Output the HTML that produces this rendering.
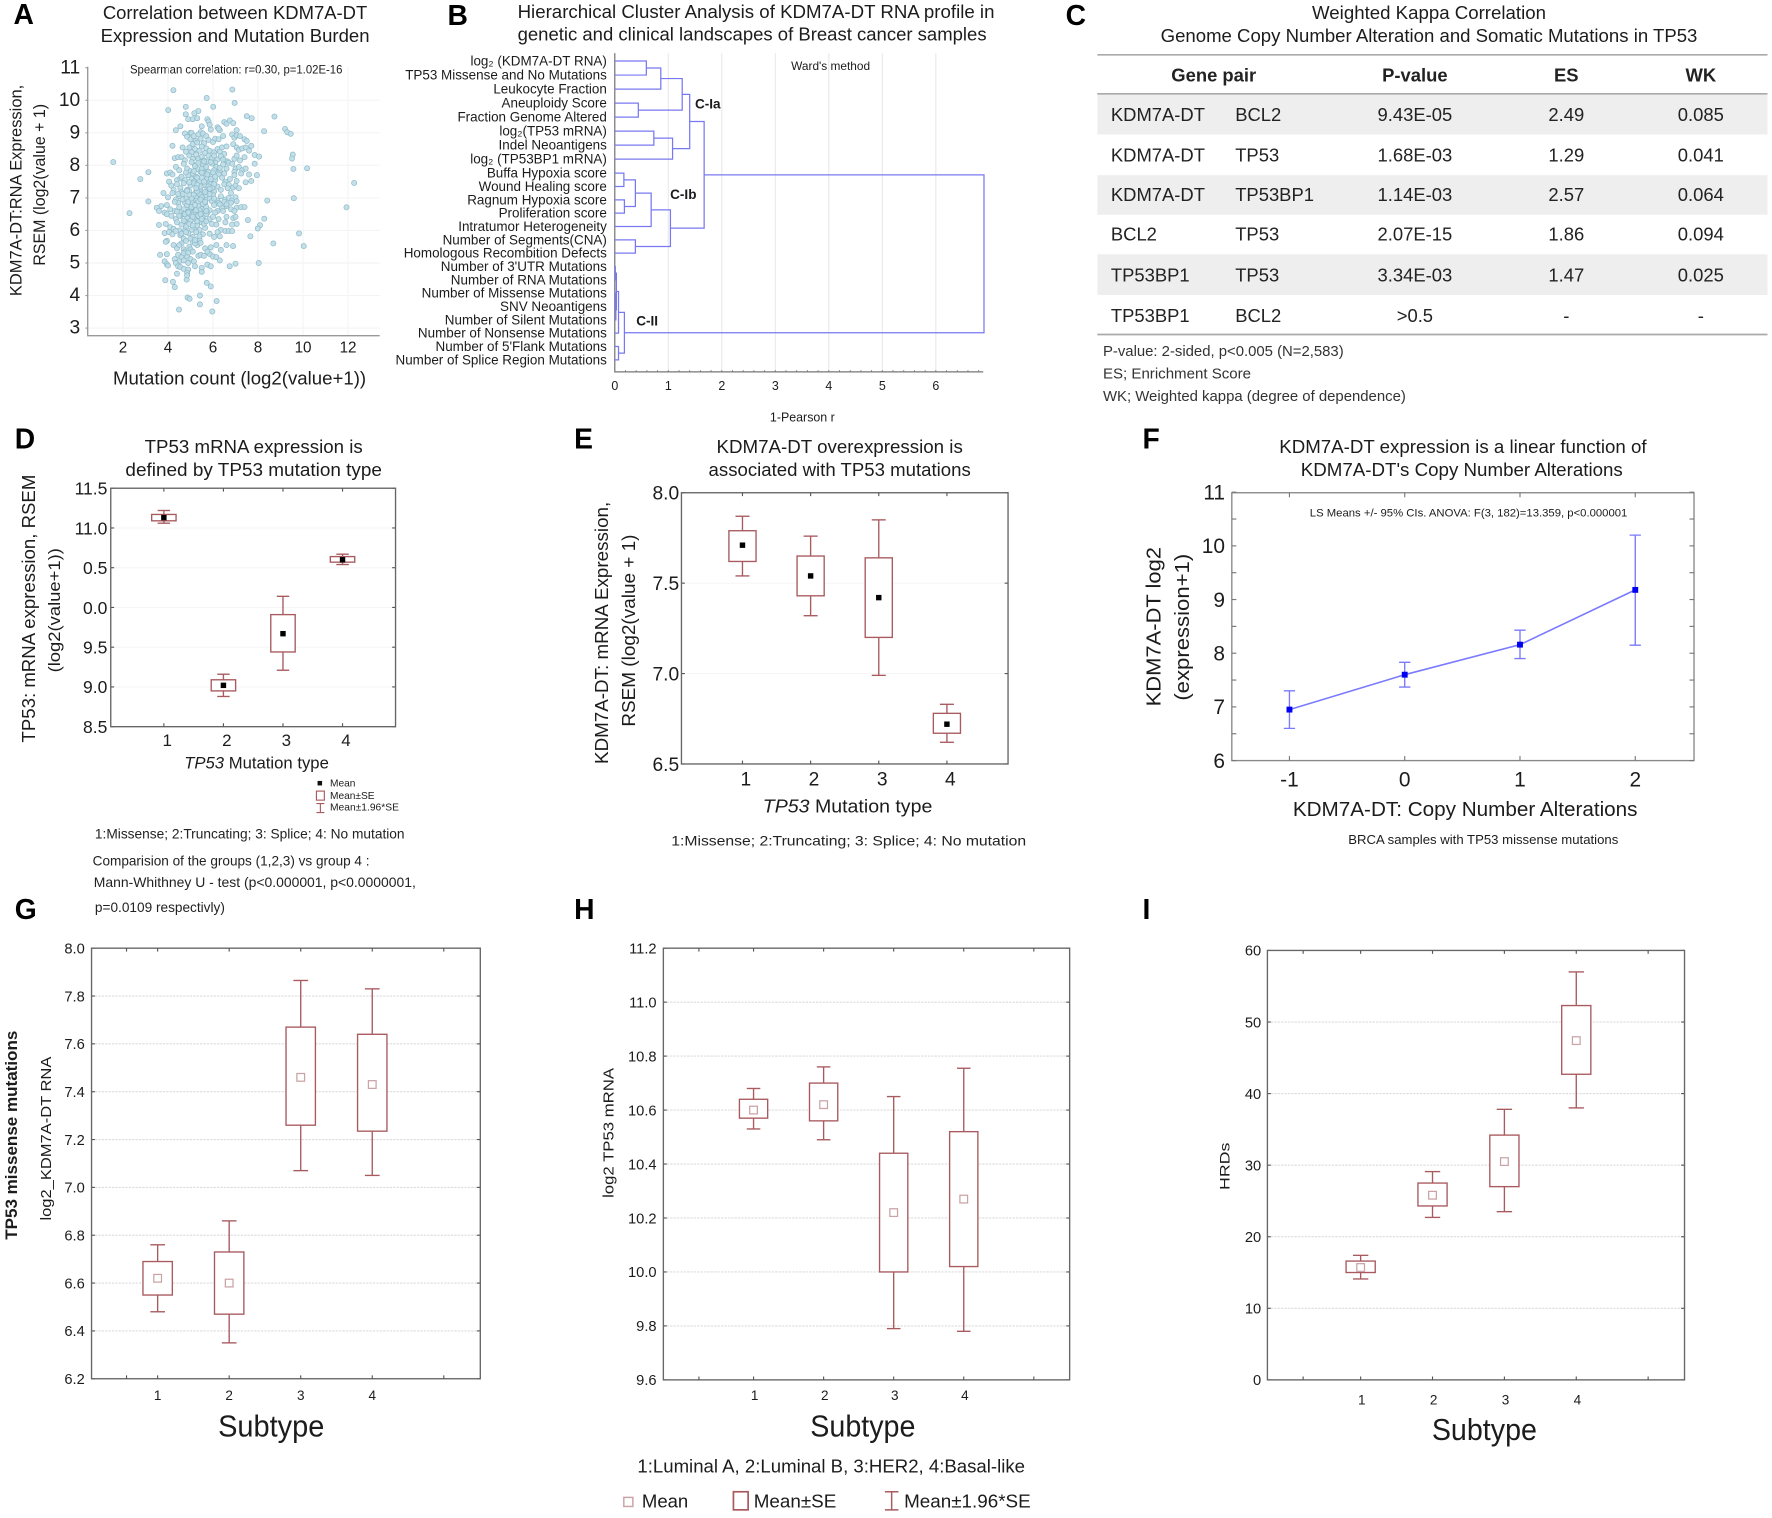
<!DOCTYPE html>
<html lang="en">
<head>
<meta charset="utf-8">
<title>KDM7A-DT multi-panel figure</title>
<style>
html,body{margin:0;padding:0;background:#fff;}
svg{display:block;font-family:"Liberation Sans",sans-serif;filter:blur(0.35px);}
text{fill:#1c1c1c;}
.plet{font-size:25px;font-weight:bold;fill:#000;}
.ttl{font-size:16px;}
.tbl{font-size:16.3px;fill:#222;}
.tbh{font-size:16.3px;font-weight:bold;fill:#222;}
.fn{font-size:13.400px;fill:#333;}
.foot{font-size:12.5px;fill:#222;}
</style>
</head>
<body>
<svg xmlns="http://www.w3.org/2000/svg" width="1772" height="1518" viewBox="0 0 1568 1343.2">
<rect x="0" y="0" width="1568" height="1343.2" fill="#fff"/>

<!-- panel letters -->
<text class="plet" x="12" y="21">A</text>
<text class="plet" x="396" y="22">B</text>
<text class="plet" x="943" y="22">C</text>
<text class="plet" x="13" y="397">D</text>
<text class="plet" x="508" y="397">E</text>
<text class="plet" x="1011" y="397">F</text>
<text class="plet" x="13" y="813">G</text>
<text class="plet" x="508" y="813">H</text>
<text class="plet" x="1011" y="813">I</text>

<!-- Panel A -->
<g id="panel-a">
<text class="ttl" x="91" y="17" textLength="234" lengthAdjust="spacingAndGlyphs">Correlation between KDM7A-DT</text>
<text class="ttl" x="89" y="37" textLength="238" lengthAdjust="spacingAndGlyphs">Expression and Mutation Burden</text>
<text x="115" y="65" font-size="10.5" textLength="188" lengthAdjust="spacingAndGlyphs">Spearman correlation: r=0.30, p=1.02E-16</text>
<text transform="translate(19,262) rotate(-90)" font-size="14.5" textLength="187" lengthAdjust="spacingAndGlyphs">KDM7A-DT:RNA Expression,</text>
<text transform="translate(40,235) rotate(-90)" font-size="14.5" textLength="143" lengthAdjust="spacingAndGlyphs">RSEM (log2(value + 1)</text>
<text x="100" y="340" font-size="16" textLength="224" lengthAdjust="spacingAndGlyphs">Mutation count (log2(value+1))</text>
</g>

<!-- Panel B -->
<g id="panel-b">
<text class="ttl" x="458" y="16" textLength="422" lengthAdjust="spacingAndGlyphs">Hierarchical Cluster Analysis of KDM7A-DT RNA profile in</text>
<text class="ttl" x="458" y="36" textLength="415" lengthAdjust="spacingAndGlyphs">genetic and clinical landscapes of Breast cancer samples</text>
<text x="735" y="62" font-size="10.5" text-anchor="middle" fill="#444">Ward's method</text>
<text x="710" y="373" font-size="11" text-anchor="middle">1-Pearson r</text>
<text x="615" y="96" font-size="12" font-weight="bold">C-Ia</text>
<text x="593" y="176" font-size="12" font-weight="bold">C-Ib</text>
<text x="563" y="288" font-size="12" font-weight="bold">C-II</text>
</g>

<!-- Panel C -->
<g id="panel-c">
<text class="ttl" x="1161" y="17" textLength="207" lengthAdjust="spacingAndGlyphs">Weighted Kappa Correlation</text>
<text class="ttl" x="1027" y="37" textLength="475" lengthAdjust="spacingAndGlyphs">Genome Copy Number  Alteration and Somatic Mutations in TP53</text>
<rect x="971" y="83" width="593" height="36" fill="#eeeeee"/>
<rect x="971" y="155" width="593" height="35" fill="#eeeeee"/>
<rect x="971" y="225" width="593" height="36" fill="#eeeeee"/>
<line x1="971" x2="1564" y1="48.5" y2="48.5" stroke="#aaa" stroke-width="1.5"/>
<line x1="971" x2="1564" y1="83" y2="83" stroke="#aaa" stroke-width="1.5"/>
<line x1="971" x2="1564" y1="296" y2="296" stroke="#aaa" stroke-width="1.5"/>
<text class="tbh" x="1074" y="72" text-anchor="middle">Gene pair</text>
<text class="tbh" x="1252" y="72" text-anchor="middle">P-value</text>
<text class="tbh" x="1386" y="72" text-anchor="middle">ES</text>
<text class="tbh" x="1505" y="72" text-anchor="middle">WK</text>

<text class="tbl" x="983" y="107">KDM7A-DT</text><text class="tbl" x="1093" y="107">BCL2</text><text class="tbl" x="1252" y="107" text-anchor="middle">9.43E-05</text><text class="tbl" x="1386" y="107" text-anchor="middle">2.49</text><text class="tbl" x="1505" y="107" text-anchor="middle">0.085</text>
<text class="tbl" x="983" y="143">KDM7A-DT</text><text class="tbl" x="1093" y="143">TP53</text><text class="tbl" x="1252" y="143" text-anchor="middle">1.68E-03</text><text class="tbl" x="1386" y="143" text-anchor="middle">1.29</text><text class="tbl" x="1505" y="143" text-anchor="middle">0.041</text>
<text class="tbl" x="983" y="178">KDM7A-DT</text><text class="tbl" x="1093" y="178">TP53BP1</text><text class="tbl" x="1252" y="178" text-anchor="middle">1.14E-03</text><text class="tbl" x="1386" y="178" text-anchor="middle">2.57</text><text class="tbl" x="1505" y="178" text-anchor="middle">0.064</text>
<text class="tbl" x="983" y="213">BCL2</text><text class="tbl" x="1093" y="213">TP53</text><text class="tbl" x="1252" y="213" text-anchor="middle">2.07E-15</text><text class="tbl" x="1386" y="213" text-anchor="middle">1.86</text><text class="tbl" x="1505" y="213" text-anchor="middle">0.094</text>
<text class="tbl" x="983" y="249">TP53BP1</text><text class="tbl" x="1093" y="249">TP53</text><text class="tbl" x="1252" y="249" text-anchor="middle">3.34E-03</text><text class="tbl" x="1386" y="249" text-anchor="middle">1.47</text><text class="tbl" x="1505" y="249" text-anchor="middle">0.025</text>
<text class="tbl" x="983" y="285">TP53BP1</text><text class="tbl" x="1093" y="285">BCL2</text><text class="tbl" x="1252" y="285" text-anchor="middle">&gt;0.5</text><text class="tbl" x="1386" y="285" text-anchor="middle">-</text><text class="tbl" x="1505" y="285" text-anchor="middle">-</text>

<text class="fn" x="976" y="315" textLength="213" lengthAdjust="spacingAndGlyphs">P-value:  2-sided, p&lt;0.005 (N=2,583)</text>
<text class="fn" x="976" y="335" textLength="131" lengthAdjust="spacingAndGlyphs">ES; Enrichment Score</text>
<text class="fn" x="976" y="355" textLength="268" lengthAdjust="spacingAndGlyphs">WK; Weighted kappa (degree of dependence)</text>
</g>

<!-- Panel D -->
<g id="panel-d">
<text class="ttl" x="128" y="401" textLength="193" lengthAdjust="spacingAndGlyphs">TP53 mRNA  expression is</text>
<text class="ttl" x="111" y="421" textLength="227" lengthAdjust="spacingAndGlyphs">defined by TP53  mutation type</text>
<text transform="translate(31,657) rotate(-90)" font-size="16" textLength="237" lengthAdjust="spacingAndGlyphs">TP53: mRNA expression, RSEM</text>
<text transform="translate(53,595) rotate(-90)" font-size="15" textLength="110" lengthAdjust="spacingAndGlyphs">(log2(value+1))</text>
<text x="163" y="680" font-size="14.5" textLength="128" lengthAdjust="spacingAndGlyphs"><tspan font-style="italic">TP53</tspan> Mutation type</text>
<rect x="281" y="691" width="4" height="4" fill="#111"/>
<text x="292" y="696" font-size="9">Mean</text>
<rect x="280" y="700" width="7" height="8" fill="#fff" stroke="#a85a5f"/>
<text x="292" y="707" font-size="9">Mean±SE</text>
<path d="M280 711H287M283.500 711V719M280 719H287" stroke="#a85a5f" fill="none"/>
<text x="292" y="717" font-size="9" textLength="61" lengthAdjust="spacingAndGlyphs">Mean±1.96*SE</text>
<text class="foot" x="84" y="742" textLength="274" lengthAdjust="spacingAndGlyphs">1:Missense; 2:Truncating; 3: Splice; 4: No mutation</text>
<text class="foot" x="82" y="766" textLength="245" lengthAdjust="spacingAndGlyphs">Comparision of the groups (1,2,3) vs group 4 :</text>
<text class="foot" x="83" y="785" textLength="285" lengthAdjust="spacingAndGlyphs">Mann-Whithney U -  test  (p&lt;0.000001, p&lt;0.0000001,</text>
<text class="foot" x="84" y="807" textLength="115" lengthAdjust="spacingAndGlyphs">p=0.0109 respectivly)</text>
</g>

<!-- Panel E -->
<g id="panel-e">
<text class="ttl" x="634" y="401" textLength="218" lengthAdjust="spacingAndGlyphs">KDM7A-DT overexpression is</text>
<text class="ttl" x="627" y="421" textLength="232" lengthAdjust="spacingAndGlyphs">associated with TP53 mutations</text>
<text transform="translate(538,676) rotate(-90)" font-size="16" textLength="232" lengthAdjust="spacingAndGlyphs">KDM7A-DT: mRNA Expression,</text>
<text transform="translate(562,643) rotate(-90)" font-size="16" textLength="170" lengthAdjust="spacingAndGlyphs">RSEM (log2(value + 1)</text>
<text x="675" y="719" font-size="16" textLength="150" lengthAdjust="spacingAndGlyphs"><tspan font-style="italic">TP53</tspan>  Mutation type</text>
<text class="foot" x="594" y="748" font-size="13" textLength="314" lengthAdjust="spacingAndGlyphs">1:Missense; 2:Truncating; 3: Splice; 4: No mutation</text>
</g>

<!-- Panel F -->
<g id="panel-f">
<text class="ttl" x="1132" y="401" textLength="325" lengthAdjust="spacingAndGlyphs">KDM7A-DT expression is a linear function of</text>
<text class="ttl" x="1151" y="421" textLength="285" lengthAdjust="spacingAndGlyphs">KDM7A-DT's Copy Number  Alterations</text>
<text x="1159" y="457" font-size="10" textLength="281" lengthAdjust="spacingAndGlyphs">LS Means +/- 95% CIs. ANOVA: F(3, 182)=13.359, p&lt;0.000001</text>
<text transform="translate(1027,625) rotate(-90)" font-size="18" textLength="141" lengthAdjust="spacingAndGlyphs">KDM7A-DT log2</text>
<text transform="translate(1052,620) rotate(-90)" font-size="18" textLength="130" lengthAdjust="spacingAndGlyphs">(expression+1)</text>
<text x="1144" y="722" font-size="18" textLength="305" lengthAdjust="spacingAndGlyphs">KDM7A-DT: Copy Number Alterations</text>
<text x="1193" y="747" font-size="11.5" textLength="239" lengthAdjust="spacingAndGlyphs" fill="#444">BRCA samples with TP53 missense mutations</text>
</g>

<!-- Panel G -->
<g id="panel-g">
<text transform="translate(15,1097) rotate(-90)" font-size="14.5" font-weight="bold" textLength="185" lengthAdjust="spacingAndGlyphs">TP53 missense mutations</text>
<text transform="translate(45,1080) rotate(-90)" font-size="13" textLength="145" lengthAdjust="spacingAndGlyphs">log2_KDM7A-DT  RNA</text>
<text x="193" y="1271" font-size="27" textLength="94" lengthAdjust="spacingAndGlyphs">Subtype</text>
</g>

<!-- Panel H -->
<g id="panel-h">
<text transform="translate(543,1060) rotate(-90)" font-size="13" textLength="115" lengthAdjust="spacingAndGlyphs">log2 TP53  mRNA</text>
<text x="717" y="1271" font-size="27" textLength="93" lengthAdjust="spacingAndGlyphs">Subtype</text>
<text x="564" y="1303" font-size="16.500" textLength="343" lengthAdjust="spacingAndGlyphs">1:Luminal A, 2:Luminal B, 3:HER2, 4:Basal-like</text>
<rect x="552" y="1325" width="8" height="8" fill="#fff" stroke="#c9a3a5" stroke-width="1.300"/>
<text x="568" y="1334" font-size="16.500" textLength="41" lengthAdjust="spacingAndGlyphs">Mean</text>
<rect x="649" y="1320" width="13" height="16" fill="#fff" stroke="#a85a5f" stroke-width="1.500"/>
<text x="667" y="1334" font-size="16.500" textLength="73" lengthAdjust="spacingAndGlyphs">Mean±SE</text>
<path d="M783 1320H795M789 1320V1336M783 1336H795" fill="none" stroke="#a85a5f" stroke-width="1.300"/>
<text x="800" y="1334" font-size="16.500" textLength="112" lengthAdjust="spacingAndGlyphs">Mean±1.96*SE</text>
</g>

<!-- Panel I -->
<g id="panel-i">
<text transform="translate(1088,1053) rotate(-90)" font-size="12" textLength="42" lengthAdjust="spacingAndGlyphs">HRDs</text>
<text x="1267" y="1274" font-size="27" textLength="93" lengthAdjust="spacingAndGlyphs">Subtype</text>
</g>
</svg>

<script>
/* ---------- Panel A data ---------- */
const aXTicks = [2,4,6,8,10,12];
const aYTicks = [3,4,5,6,7,8,9,10,11];
const scatterMutation = [
1.57,2.29,2.77,3.13,3.13,4.24,6.86,5.72,6.96,6.01,
4.01,4.79,4.79,5.35,5.17,7.5,7.72,8.73,9.2,9.3,
9.45,8.27,9.54,9.51,9.57,10.18,12.27,11.93,9.59,8.41,
8.28,8.09,7.99,7.66,8.68,9.82,10.03,8.03,7.0,6.74,
6.89,3.88,4.22,4.3,4.83,5.72,5.9,4.87,4.96,5.42,
5.42,6.16,4.49,5.97,
4.55,4.9,5.1,5.3,5.75,5.8,5.85,6.2,6.3,6.5,6.6,6.75,6.9,7.05,5.5,5.9,6.25,4.35,5.0,5.45,
4.75,4.85,5.0,5.05,5.15,5.25,5.35,5.45,5.55,5.7,5.8,6.0,6.1,6.25,6.45,6.85,6.95,7.05,7.2,7.4,7.5,4.2,5.1,5.3,5.6,
4.65,4.8,4.95,5.2,5.4,5.5,5.7,5.85,6.05,6.2,6.4,6.6,6.9,7.05,7.15,7.3,7.45,7.6,7.7,5.05,5.65,6.3,6.5,
4.3,4.45,4.6,4.75,4.95,5.1,5.25,5.35,5.5,5.6,5.8,5.95,6.05,6.2,6.35,6.5,6.65,6.95,7.05,7.2,7.4,7.85,8.05,5.45,5.75,6.1,6.45,
3.95,4.1,4.35,4.5,4.7,4.85,5.0,5.2,5.35,5.55,5.65,5.8,5.95,6.15,6.3,6.45,6.7,6.85,7.0,7.15,7.3,7.45,7.85,5.1,5.45,6.05,6.6,6.95,
4.05,4.2,4.4,4.55,4.75,4.9,5.05,5.25,5.4,5.6,5.75,5.9,6.1,6.25,6.4,6.55,6.75,6.95,7.05,7.25,7.45,7.6,7.7,7.95,5.15,5.5,5.85,6.0,
3.8,4.15,4.25,4.4,4.55,4.7,4.85,5.0,5.15,5.3,5.45,5.6,5.75,5.9,6.05,6.2,6.35,6.5,6.7,6.9,7.0,7.15,4.6,4.95,5.25,5.55,5.8,
4.0,4.2,4.35,4.5,4.65,4.8,4.95,5.1,5.25,5.4,5.55,5.7,5.85,6.0,6.2,6.35,6.55,6.7,6.85,7.0,7.05,4.45,4.75,5.05,5.35,5.65,5.95,6.25,6.5,6.8,
3.7,3.95,4.1,4.3,4.5,4.7,4.85,5.0,5.2,5.35,5.5,5.7,5.85,6.05,6.2,6.4,6.6,6.8,7.05,7.25,7.4,4.4,4.6,4.9,5.15,5.45,5.75,6.1,6.45,6.95,3.85,3.5,3.6,
3.95,4.15,4.35,4.55,4.7,4.85,5.05,5.2,5.35,5.55,5.7,5.85,6.0,6.25,6.6,6.9,7.0,7.55,4.75,5.0,5.3,5.6,
3.6,3.9,4.1,4.25,4.4,4.6,4.8,4.95,5.15,5.3,5.5,5.65,5.95,6.15,6.35,6.55,6.85,7.05,4.5,4.75,5.05,5.4,
3.85,3.95,4.05,4.2,4.35,4.55,4.7,4.9,5.1,5.25,5.4,5.55,5.85,6.05,6.2,6.3,6.55,6.7,6.85,
3.9,4.25,4.4,4.6,4.8,4.95,5.1,5.3,5.45,5.65,5.9,6.15,6.35,6.6,4.5,4.7,5.0,5.2,
3.65,3.95,4.3,4.45,4.6,4.75,4.85,5.0,5.15,5.35,5.45,5.6,5.85,6.0,6.15,6.3,4.5,4.7,4.9,4.35,3.85,5.75,
3.95,4.0,4.45,4.55,4.7,4.9,5.2,5.5,5.5,5.75,5.9,4.4,4.85,4.85,
5.05,5.2,5.35,5.5,5.6,5.75,5.9,6.05,5.3,5.45,5.6,5.8,5.95,5.15,5.3,5.5,5.65,5.85,4.9,5.05,5.2,5.4,5.55,5.7,4.75,4.95,5.1,5.25,5.45,5.6,
4.6,4.8,4.95,5.15,5.3,5.5,5.7,5.9,6.1,6.3,6.5,6.65,6.8,4.45,4.65,4.85,5.05,5.25,5.45,5.65,5.85,6.05,6.3,6.6,4.3,4.5,4.7,4.9,5.1,5.3,5.5,5.7,4.6,4.8,5.0,5.2,5.4,4.7,4.9,5.1
];
const scatterExpression = [
8.1,6.53,7.58,7.79,6.89,10.31,10.33,10.07,9.92,9.8,
9.7,9.8,9.57,9.67,9.6,9.51,9.45,9.5,9.12,9.02,
8.97,9.05,8.33,8.21,7.89,7.91,7.46,6.71,6.99,6.92,
6.36,6.16,6.06,5.82,5.6,5.91,5.52,5.0,4.98,4.9,
5.52,4.47,4.42,4.26,4.49,4.39,4.28,3.94,3.9,4.0,
3.73,3.83,3.57,3.51,
9.2,9.42,9.42,9.45,9.42,9.35,9.25,9.17,9.08,9.33,9.28,9.38,9.3,9.08,9.2,9.1,9.13,9.08,9.0,9.02,
8.98,8.88,8.8,9.0,8.9,8.75,8.95,8.82,8.98,8.9,8.78,8.72,8.82,8.8,8.9,8.95,8.85,8.92,8.9,8.8,8.75,8.6,8.65,8.7,8.68,
8.55,8.42,8.55,8.5,8.45,8.58,8.52,8.45,8.4,8.5,8.55,8.58,8.65,8.55,8.48,8.52,8.55,8.45,8.6,8.4,8.38,8.42,8.35,
8.22,8.25,8.25,8.15,8.3,8.2,8.33,8.2,8.27,8.15,8.3,8.22,8.3,8.18,8.28,8.15,8.12,8.2,8.3,8.15,8.25,8.32,8.27,8.1,8.12,8.08,8.18,
7.75,7.78,7.95,7.85,8.05,7.9,7.82,8.0,7.88,8.02,7.92,7.8,8.05,7.95,7.85,8.03,8.08,8.05,7.9,7.95,7.85,7.9,8.05,7.75,7.8,7.85,7.9,7.8,
7.5,7.72,7.55,7.6,7.55,7.7,7.58,7.65,7.52,7.75,7.6,7.68,7.55,7.72,7.62,7.5,7.58,7.7,7.52,7.75,7.48,7.72,7.52,7.7,7.5,7.62,7.48,7.78,
7.15,7.38,7.25,7.42,7.3,7.45,7.25,7.38,7.45,7.3,7.22,7.4,7.28,7.42,7.2,7.35,7.25,7.42,7.4,7.32,7.38,7.3,7.18,7.2,7.18,7.15,7.2,
7.02,7.15,6.95,7.05,7.12,6.98,7.1,6.92,7.05,7.12,6.95,7.08,6.98,7.1,6.92,7.05,6.95,7.0,6.92,7.02,6.9,6.85,6.85,6.88,6.88,6.85,6.9,6.85,6.88,6.85,
6.75,6.78,6.65,6.6,6.72,6.65,6.78,6.68,6.6,6.75,6.65,6.72,6.62,6.78,6.6,6.7,6.75,6.65,6.7,6.72,6.72,6.58,6.55,6.58,6.55,6.58,6.55,6.55,6.6,6.6,6.55,6.7,6.6,
6.5,6.45,6.35,6.45,6.5,6.38,6.48,6.35,6.45,6.4,6.5,6.35,6.42,6.35,6.42,6.38,6.42,6.32,6.28,6.3,6.28,6.3,
6.17,6.2,6.1,6.05,6.25,6.18,6.1,6.2,6.05,6.15,6.25,6.08,6.2,6.18,6.02,6.25,6.18,6.2,6.0,6.0,6.02,6.02,
5.92,5.68,5.95,5.88,5.98,5.85,5.75,5.92,5.8,5.95,5.72,5.88,5.9,5.8,5.95,5.82,5.98,5.98,5.98,
5.65,5.55,5.45,5.6,5.68,5.5,5.65,5.55,5.62,5.45,5.48,5.55,5.4,5.55,5.55,5.42,5.42,5.6,
5.25,5.27,5.12,5.25,5.18,5.35,5.2,5.12,5.05,5.22,5.25,5.22,5.28,5.2,5.18,5.08,5.05,5.08,5.0,5.0,5.05,5.35,
4.96,4.92,4.9,4.88,4.82,4.8,4.9,4.85,4.73,4.95,4.9,4.67,4.7,4.62,
8.1,7.98,8.08,7.9,8.12,7.72,7.58,7.42,7.62,7.35,7.5,7.35,7.3,7.1,7.2,7.02,7.18,7.12,6.88,6.72,6.78,6.62,6.82,6.6,6.5,6.58,6.42,6.62,6.5,6.2,
7.65,7.78,7.48,7.82,7.4,7.78,7.95,8.1,7.65,7.92,7.75,7.3,7.15,7.12,6.95,7.22,6.98,7.3,6.95,6.88,7.28,6.98,6.8,6.8,6.88,6.45,6.3,6.55,6.15,6.28,6.35,6.28,5.9,5.95,5.75,5.7,5.82,5.3,5.32,5.35
];

/* ---------- Panel B data ---------- */
const dendroLeafLabels = ["log₂ (KDM7A-DT RNA)","TP53 Missense and No Mutations","Leukocyte Fraction","Aneuploidy Score","Fraction Genome Altered","log₂(TP53 mRNA)","Indel Neoantigens","log₂ (TP53BP1 mRNA)","Buffa Hypoxia score","Wound Healing score","Ragnum Hypoxia score","Proliferation score","Intratumor Heterogeneity","Number of Segments(CNA)","Homologous Recombition Defects","Number of 3'UTR Mutations","Number of RNA Mutations","Number of Missense Mutations","SNV Neoantigens","Number of Silent Mutations","Number of Nonsense Mutations","Number of 5'Flank Mutations","Number of Splice  Region Mutations"];
const dendroMergeLeft  = [0,23,3,24,5,27,26,8,10,30,32,13,33,29,15,17,38,37,40,21,41,36];
const dendroMergeRight = [1,2,4,25,6,7,28,9,11,31,12,14,34,35,16,18,19,39,20,22,42,43];
const dendroMergeHeight = [0.59,0.86,0.44,1.26,0.73,1.08,1.40,0.17,0.18,0.385,0.68,0.385,1.04,1.67,0.01,0.015,0.02,0.03,0.07,0.07,0.18,6.9];
const dendroXTicks = [0,1,2,3,4,5,6];

/* ---------- Panel D data ---------- */
const dCategories = ["1","2","3","4"];
const dTickValues = [11.5,11,10.5,10,9.5,9,8.5];
const dTickLabels = ["11.5","11.0","0.5","0.0","9.5","9.0","8.5"];
const dMeans  = [11.13,9.02,9.67,10.60];
const dSeLow  = [11.09,8.95,9.44,10.57];
const dSeHigh = [11.17,9.09,9.91,10.64];
const dCiLow  = [11.06,8.88,9.21,10.54];
const dCiHigh = [11.22,9.16,10.14,10.67];

/* ---------- Panel E data ---------- */
const eCategories = ["1","2","3","4"];
const eTickValues = [8,7.5,7,6.5];
const eTickLabels = ["8.0","7.5","7.0","6.5"];
const eMeans  = [7.71,7.54,7.42,6.72];
const eSeLow  = [7.62,7.43,7.20,6.67];
const eSeHigh = [7.79,7.65,7.64,6.78];
const eCiLow  = [7.54,7.32,6.99,6.62];
const eCiHigh = [7.87,7.76,7.85,6.83];

/* ---------- Panel F data ---------- */
const fCategories = [-1,0,1,2];
const fTickValues = [11,10,9,8,7,6];
const fMinorTicks = [10.5,9.5,8.5,7.5,6.5];
const fMeans  = [6.95,7.6,8.16,9.18];
const fCiLow  = [6.6,7.37,7.9,8.15];
const fCiHigh = [7.3,7.83,8.43,10.2];

/* ---------- Panel G data ---------- */
const gCategories = ["1","2","3","4"];
const gTickValues = [8,7.8,7.6,7.4,7.2,7,6.8,6.6,6.4,6.2];
const gTickLabels = ["8.0","7.8","7.6","7.4","7.2","7.0","6.8","6.6","6.4","6.2"];
const gMeans  = [6.62,6.60,7.46,7.43];
const gSeLow  = [6.55,6.47,7.26,7.235];
const gSeHigh = [6.69,6.73,7.67,7.64];
const gCiLow  = [6.48,6.35,7.07,7.05];
const gCiHigh = [6.76,6.86,7.865,7.83];

/* ---------- Panel H data ---------- */
const hCategories = ["1","2","3","4"];
const hTickValues = [11.2,11,10.8,10.6,10.4,10.2,10,9.8,9.6];
const hTickLabels = ["11.2","11.0","10.8","10.6","10.4","10.2","10.0","9.8","9.6"];
const hMeans  = [10.60,10.62,10.22,10.27];
const hSeLow  = [10.57,10.56,10.0,10.02];
const hSeHigh = [10.64,10.70,10.44,10.52];
const hCiLow  = [10.53,10.49,9.79,9.78];
const hCiHigh = [10.68,10.76,10.65,10.755];

/* ---------- Panel I data ---------- */
const iCategories = ["1","2","3","4"];
const iTickValues = [60,50,40,30,20,10,0];
const iTickLabels = ["60","50","40","30","20","10","0"];
const iMeans  = [15.7,25.8,30.5,47.4];
const iSeLow  = [15.0,24.3,27.0,42.7];
const iSeHigh = [16.6,27.5,34.2,52.3];
const iCiLow  = [14.1,22.7,23.5,38];
const iCiHigh = [17.4,29.1,37.8,57];

/* ---------- helpers ---------- */
const NS = "http://www.w3.org/2000/svg";
const BOX = "#a85a5f";
function mk(parent, tag, attrs, txt){
  const e = document.createElementNS(NS, tag);
  for (const k in attrs) e.setAttribute(k, attrs[k]);
  if (txt !== undefined) e.textContent = txt;
  parent.appendChild(e);
  return e;
}
function panel(id){ return document.getElementById(id); }

/* ---------- Panel A ---------- */
(function(){
  const g = panel('panel-a');
  const L=77.6, R=336, T=59, B=297;
  const x = v => 108.8 + (v-2)*19.92;
  const y = v => 290.3 - (v-3)*28.8;
  aXTicks.forEach(v=>{
    const gl = mk(g,'line',{x1:x(v),x2:x(v),y1:T,y2:B,stroke:'#f4f4f4','stroke-width':1});
    
    
    const t = mk(g,'text',{x:x(v),y:312,'font-size':13.5,'text-anchor':'middle'},String(v));
    
    
  });
  aYTicks.forEach(v=>{
    if (v<11){
      const gl = mk(g,'line',{x1:L,x2:R,y1:y(v),y2:y(v),stroke:'#f4f4f4','stroke-width':1});
      
      
    }
    const tk = mk(g,'line',{x1:L-2,x2:L,y1:y(v),y2:y(v),stroke:'#999','stroke-width':1});
    
    
    const t = mk(g,'text',{x:71,y:y(v)+5,'font-size':17,'text-anchor':'end'},String(v));
    
    
  });
  const ax = mk(g,'path',{d:`M${L} ${T}V${B}H${R}`,fill:'none',stroke:'#999','stroke-width':1.2});
  
  
  scatterMutation.forEach((v,i)=>{
    if (scatterExpression[i] === undefined) return;
    const c = mk(g,'circle',{cx:x(v),cy:y(scatterExpression[i]),r:2.3,fill:'#bcdde8',stroke:'#8db8c6','stroke-width':0.6,'fill-opacity':0.9});
    
    
  });
})();

/* ---------- Panel B ---------- */
(function(){
  const g = panel('panel-b');
  const T=47, B=329, L=544, R=870;
  const x = v => L + v*47.35;
  const leafY = i => i<=8 ? 54 + i*12.4 : 153.2 + (i-8)*11.8;
  dendroXTicks.forEach(v=>{
    if (v>0){
      const gl = mk(g,'line',{x1:x(v),x2:x(v),y1:T,y2:B,stroke:'#e9e9e9','stroke-width':1});
      
      
    }
    const t = mk(g,'text',{x:x(v),y:345,'font-size':11,'text-anchor':'middle'},String(v));
    
    
  });
  const ax = mk(g,'path',{d:`M${L} ${T}V${B}H${R}`,fill:'none',stroke:'#777','stroke-width':1.1});
  
  
  for (let v=0.2; v<6.9; v+=0.2){
    const tk = mk(g,'line',{x1:x(v),x2:x(v),y1:B-1.5,y2:B,stroke:'#777','stroke-width':0.8});
    
    
  }
  const nodes = dendroLeafLabels.map((s,i)=>({x:x(0),y:leafY(i)}));
  dendroLeafLabels.forEach((s,i)=>{
    const t = mk(g,'text',{x:537,y:leafY(i)+4,'font-size':11.9,'text-anchor':'end',fill:'#222'},s);
    
    
  });
  dendroMergeHeight.forEach((h,i)=>{
    const a = nodes[dendroMergeLeft[i]], b = nodes[dendroMergeRight[i]];
    const hx = x(h);
    const p = mk(g,'path',{d:`M${a.x} ${a.y}H${hx}V${b.y}H${b.x}`,fill:'none',stroke:'#7878f2','stroke-width':1.1});
    
    
    nodes.push({x:hx,y:(a.y+b.y)/2});
  });
})();

/* ---------- Box panels (D, E, G, H, I) ---------- */
function drawBoxPanel(c){
  const g = panel(c.id);
  const F = c.frame;
  const y = v => F.b - (v-c.domain[0])/(c.domain[1]-c.domain[0])*(F.b-F.t);
  const x = k => c.x1 + k*c.dx;
  c.yTicks.forEach((v,i)=>{
    if (i>0 && i<c.yTicks.length-1){
      const gl = mk(g,'line',{x1:F.l,x2:F.r,y1:y(v),y2:y(v),stroke:c.grid,'stroke-width':1,'stroke-dasharray':c.gridDash});
      
      
    }
    const t1 = mk(g,'line',{x1:F.l,x2:F.l+3,y1:y(v),y2:y(v),stroke:'#555','stroke-width':1});
    
    
    const t2 = mk(g,'line',{x1:F.r-3,x2:F.r,y1:y(v),y2:y(v),stroke:'#555','stroke-width':1});
    
    
    const lab = mk(g,'text',{x:c.yLabelX,y:y(v)+c.yFont*0.36,'font-size':c.yFont,'text-anchor':'end'},c.yLabels[i]);
    
    
  });
  const frame = mk(g,'rect',{x:F.l,y:F.t,width:F.r-F.l,height:F.b-F.t,fill:'none',stroke:'#666','stroke-width':1.2});
  
  
  const tickKeys = c.cats.map((s,i)=>i).concat(c.extraTicks);
  tickKeys.forEach(k=>{
    const tb = mk(g,'line',{x1:x(k),x2:x(k),y1:F.b-3,y2:F.b,stroke:'#555','stroke-width':1});
    
    
    const tt = mk(g,'line',{x1:x(k),x2:x(k),y1:F.t,y2:F.t+3,stroke:'#555','stroke-width':1});
    
    
  });
  c.cats.forEach((s,k)=>{
    const lab = mk(g,'text',{x:x(k)+c.labelDx,y:c.labelY,'font-size':c.xFont,'text-anchor':'middle'},s);
    
    
    const cx = x(k);
    const up = mk(g,'line',{x1:cx,x2:cx,y1:y(c.ciHigh[k]),y2:y(c.seHigh[k]),stroke:BOX,'stroke-width':1.2});
    
    
    const dn = mk(g,'line',{x1:cx,x2:cx,y1:y(c.seLow[k]),y2:y(c.ciLow[k]),stroke:BOX,'stroke-width':1.2});
    
    
    const cu = mk(g,'line',{x1:cx-c.cap,x2:cx+c.cap,y1:y(c.ciHigh[k]),y2:y(c.ciHigh[k]),stroke:BOX,'stroke-width':1.2});
    
    
    const cd = mk(g,'line',{x1:cx-c.cap,x2:cx+c.cap,y1:y(c.ciLow[k]),y2:y(c.ciLow[k]),stroke:BOX,'stroke-width':1.2});
    
    
    const b = mk(g,'rect',{x:cx-c.half,y:y(c.seHigh[k]),width:c.half*2,height:y(c.seLow[k])-y(c.seHigh[k]),fill:'#fff',stroke:BOX,'stroke-width':1.2});
    
    
    let m;
    if (c.solidMean){
      m = mk(g,'rect',{x:cx-2.4,y:y(c.means[k])-2.4,width:4.8,height:4.8,fill:'#000'});
    } else {
      m = mk(g,'rect',{x:cx-3.4,y:y(c.means[k])-3.4,width:6.8,height:6.8,fill:'#fff',stroke:'#c9a3a5','stroke-width':1.1});
    }
    
    
  });
}
drawBoxPanel({id:'panel-d',frame:{l:98,r:350,t:432,b:643},domain:[8.5,11.5],yTicks:dTickValues,yLabels:dTickLabels,cats:dCategories,x1:145,dx:52.7,labelDx:3,labelY:660,xFont:15,yFont:15.5,yLabelX:95,extraTicks:[],means:dMeans,seLow:dSeLow,seHigh:dSeHigh,ciLow:dCiLow,ciHigh:dCiHigh,half:10.8,cap:5.5,solidMean:true,grid:'#f6f6f6',gridDash:'none'});
drawBoxPanel({id:'panel-e',frame:{l:603,r:892,t:436,b:676},domain:[6.5,8],yTicks:eTickValues,yLabels:eTickLabels,cats:eCategories,x1:657,dx:60.3,labelDx:3,labelY:695,xFont:17,yFont:17,yLabelX:601,extraTicks:[],means:eMeans,seLow:eSeLow,seHigh:eSeHigh,ciLow:eCiLow,ciHigh:eCiHigh,half:12,cap:6.2,solidMean:true,grid:'#f6f6f6',gridDash:'none'});
drawBoxPanel({id:'panel-g',frame:{l:81,r:425,t:839,b:1220},domain:[6.2,8],yTicks:gTickValues,yLabels:gTickLabels,cats:gCategories,x1:139.5,dx:63.3,labelDx:0,labelY:1239,xFont:12,yFont:13,yLabelX:75,extraTicks:[-0.435,4],means:gMeans,seLow:gSeLow,seHigh:gSeHigh,ciLow:gCiLow,ciHigh:gCiHigh,half:13,cap:6.5,solidMean:false,grid:'#dcdcdc',gridDash:'2 1'});
drawBoxPanel({id:'panel-h',frame:{l:587,r:946.5,t:839,b:1221},domain:[9.6,11.2],yTicks:hTickValues,yLabels:hTickLabels,cats:hCategories,x1:666.8,dx:62,labelDx:1,labelY:1239,xFont:12,yFont:13,yLabelX:581,extraTicks:[-0.78,4],means:hMeans,seLow:hSeLow,seHigh:hSeHigh,ciLow:hCiLow,ciHigh:hCiHigh,half:12.5,cap:6,solidMean:false,grid:'#dcdcdc',gridDash:'2 1'});
drawBoxPanel({id:'panel-i',frame:{l:1121.5,r:1490.6,t:841,b:1221},domain:[0,60],yTicks:iTickValues,yLabels:iTickLabels,cats:iCategories,x1:1204,dx:63.6,labelDx:1,labelY:1243,xFont:12,yFont:13,yLabelX:1116,extraTicks:[-0.8,4],means:iMeans,seLow:iSeLow,seHigh:iSeHigh,ciLow:iCiLow,ciHigh:iCiHigh,half:12.9,cap:6.8,solidMean:false,grid:'#dcdcdc',gridDash:'2 1'});

/* ---------- Panel F ---------- */
(function(){
  const g = panel('panel-f');
  const L=1090, R=1499, T=436, B=673;
  const x = v => 1243 + v*102;
  const y = v => B - (v-6)*47.5;
  const frame = mk(g,'rect',{x:L,y:T,width:R-L,height:B-T,fill:'none',stroke:'#888','stroke-width':1.2});
  
  
  fTickValues.forEach(v=>{
    const t1 = mk(g,'line',{x1:L,x2:L+4,y1:y(v),y2:y(v),stroke:'#777','stroke-width':1});
    
    
    const t2 = mk(g,'line',{x1:R-4,x2:R,y1:y(v),y2:y(v),stroke:'#777','stroke-width':1});
    
    
    const lab = mk(g,'text',{x:1084,y:y(v)+6.5,'font-size':18.5,'text-anchor':'end'},String(v));
    
    
  });
  fMinorTicks.forEach(v=>{
    const t1 = mk(g,'line',{x1:L,x2:L+4,y1:y(v),y2:y(v),stroke:'#777','stroke-width':1});
    
    
    const t2 = mk(g,'line',{x1:R-4,x2:R,y1:y(v),y2:y(v),stroke:'#777','stroke-width':1});
    
    
  });
  fCategories.forEach((v,i)=>{
    const cx = x(v);
    const t1 = mk(g,'line',{x1:cx,x2:cx,y1:T,y2:T+4,stroke:'#777','stroke-width':1});
    
    
    const t2 = mk(g,'line',{x1:cx,x2:cx,y1:B-4,y2:B,stroke:'#777','stroke-width':1});
    
    
    const lab = mk(g,'text',{x:cx,y:696,'font-size':18.5,'text-anchor':'middle'},String(v));
    
    
    const eb = mk(g,'path',{d:`M${cx-5} ${y(fCiHigh[i])}H${cx+5}M${cx} ${y(fCiHigh[i])}V${y(fCiLow[i])}M${cx-5} ${y(fCiLow[i])}H${cx+5}`,fill:'none',stroke:'#7a7aff','stroke-width':1.2});
    
    
  });
  const line = mk(g,'path',{d:fCategories.map((v,i)=>(i?'L':'M')+x(v)+' '+y(fMeans[i])).join(''),fill:'none',stroke:'#7a7aff','stroke-width':1.4});
  
  
  fCategories.forEach((v,i)=>{
    const m = mk(g,'rect',{x:x(v)-2.6,y:y(fMeans[i])-2.6,width:5.2,height:5.2,fill:'#0000f0'});
    
    
  });
})();
</script>
</body>
</html>
